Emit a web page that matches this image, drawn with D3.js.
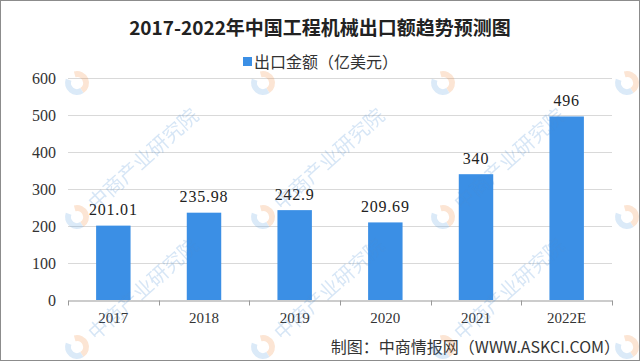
<!DOCTYPE html>
<html>
<head>
<meta charset="utf-8">
<script src="https://cdn.jsdelivr.net/npm/d3@7"></script>
<style>
  body { margin: 0; background: #fff; }
</style>
</head>
<body>
<div id="chart"></div>
<script>
// Chart data
const years = ["2017", "2018", "2019", "2020", "2021", "2022E"];
const exportValues = [201.01, 235.98, 242.9, 209.69, 340, 496];
const valueLabels = ["201.01", "235.98", "242.9", "209.69", "340", "496"];
const yTicks = [0, 100, 200, 300, 400, 500, 600];

const width = 640;
const height = 363;
const margin = { top: 78, right: 28, bottom: 63, left: 68 };

const svg = d3.select("#chart")
  .append("svg")
  .attr("width", width)
  .attr("height", height);

// outer frame
svg.append("rect")
  .attr("x", 0.5).attr("y", 0.5)
  .attr("width", width - 1).attr("height", height - 3)
  .attr("fill", "#fff")
  .attr("stroke", "#8c8c8c");

const x = d3.scaleBand()
  .domain(years)
  .range([margin.left, width - margin.right])
  .paddingInner(0.62)
  .paddingOuter(0.31);

const y = d3.scaleLinear()
  .domain([0, 600])
  .range([height - margin.bottom, margin.top]);

const numFont = "'Liberation Serif', 'DejaVu Serif', serif";
const cjkFont = "'Noto Sans CJK SC', sans-serif";

// gridlines
svg.append("g")
  .selectAll("line")
  .data(yTicks.filter(d => d > 0))
  .join("line")
  .attr("x1", margin.left)
  .attr("x2", width - margin.right)
  .attr("y1", d => Math.round(y(d)) + 0.5)
  .attr("y2", d => Math.round(y(d)) + 0.5)
  .attr("stroke", "#d9d9d9");

// y axis labels
const yAxis = svg.append("g")
  .attr("transform", `translate(${margin.left}, 0)`)
  .call(d3.axisLeft(y).tickValues(yTicks).tickSize(0).tickPadding(12));
yAxis.select(".domain").remove();
yAxis.selectAll("text")
  .attr("font-family", numFont)
  .attr("font-size", 16)
  .attr("fill", "#333");

// bars
svg.append("g")
  .selectAll("rect")
  .data(exportValues)
  .join("rect")
  .attr("x", (d, i) => x(years[i]))
  .attr("y", d => y(d))
  .attr("width", x.bandwidth())
  .attr("height", d => y(0) - y(d))
  .attr("fill", "#3b8fe5");

// value labels
svg.append("g")
  .selectAll("text")
  .data(exportValues)
  .join("text")
  .attr("x", (d, i) => x(years[i]) + x.bandwidth() / 2)
  .attr("y", d => y(d) - 16)
  .attr("text-anchor", "middle")
  .attr("dominant-baseline", "central")
  .attr("font-family", numFont)
  .attr("font-size", 16)
  .attr("letter-spacing", 0.8)
  .attr("fill", "#222")
  .text((d, i) => valueLabels[i]);

// x axis
const band = x.step();
const xAxis = svg.append("g")
  .attr("transform", `translate(0, ${Math.round(y(0)) + 0.5})`)
  .call(d3.axisBottom(x).tickSize(0).tickPadding(12));
xAxis.select(".domain").attr("stroke", "#999");
xAxis.selectAll("text")
  .attr("font-family", numFont)
  .attr("font-size", 15)
  .attr("fill", "#333");
// ticks between categories
xAxis.append("g")
  .selectAll("line")
  .data(d3.range(years.length + 1))
  .join("line")
  .attr("x1", i => Math.round(margin.left + i * band) + 0.5)
  .attr("x2", i => Math.round(margin.left + i * band) + 0.5)
  .attr("y1", 0)
  .attr("y2", 5)
  .attr("stroke", "#999");

// title
svg.append("text")
  .attr("x", 320)
  .attr("y", 26)
  .attr("text-anchor", "middle")
  .attr("dominant-baseline", "central")
  .attr("font-family", cjkFont)
  .attr("font-weight", "bold")
  .attr("font-size", 19)
  .attr("fill", "#222")
  .text("2017-2022年中国工程机械出口额趋势预测图");

// legend
svg.append("rect")
  .attr("x", 243).attr("y", 57)
  .attr("width", 9).attr("height", 9)
  .attr("fill", "#3b8fe5");
svg.append("text")
  .attr("x", 254)
  .attr("y", 61)
  .attr("dominant-baseline", "central")
  .attr("font-family", cjkFont)
  .attr("font-size", 16)
  .attr("fill", "#333")
  .text("出口金额（亿美元）");

// source
svg.append("text")
  .attr("x", 620)
  .attr("y", 346)
  .attr("text-anchor", "end")
  .attr("dominant-baseline", "central")
  .attr("font-family", cjkFont)
  .attr("font-size", 16)
  .attr("fill", "#333")
  .text("制图：中商情报网（WWW.ASKCI.COM）");

// watermarks (logo everywhere, text only where it fits inside the frame)
const wmX = [77, 263, 443, 627];
const wmY = [83, 217, 347];
const wm = svg.append("g").attr("opacity", 0.22);
wmY.forEach(wy => {
  wmX.forEach(wx => {
    const g = wm.append("g").attr("transform", `translate(${wx}, ${wy}) rotate(-42)`);
    g.append("path")
      .attr("d", d3.arc()({ innerRadius: 6, outerRadius: 12, startAngle: Math.PI * 0.15, endAngle: Math.PI * 1.05 }))
      .attr("fill", "#f08a3c");
    g.append("path")
      .attr("d", d3.arc()({ innerRadius: 6, outerRadius: 12, startAngle: Math.PI * 1.05, endAngle: Math.PI * 1.85 }))
      .attr("fill", "#5a9ee0");
    if (wy > 100 && wx < 600) {
      g.append("text")
        .attr("x", 18)
        .attr("y", 0)
        .attr("dominant-baseline", "central")
        .attr("font-family", cjkFont)
        .attr("font-size", 20)
        .attr("fill", "#4a8fd6")
        .text("中商产业研究院");
    }
  });
});
</script>
</body>
</html>
